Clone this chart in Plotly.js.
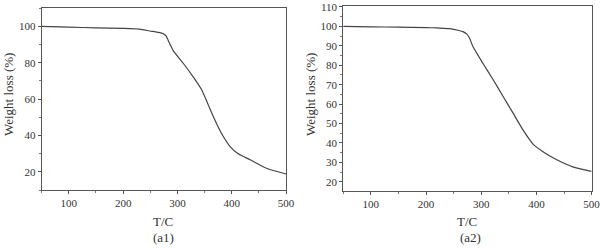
<!DOCTYPE html>
<html>
<head>
<meta charset="utf-8">
<script src="https://cdn.plot.ly/plotly-3.0.1.min.js"></script>
<style>html,body{margin:0;padding:0;background:#fff;}#chart{width:600px;height:250px;}</style>
</head>
<body>
<div id="chart"></div>
<script>
// (a1) TGA curve
const tempA1 = [50, 100, 150, 200, 230, 249, 265, 274, 279, 283, 292, 311, 329, 345, 357, 369, 381, 397, 412, 434, 464, 500];
const weightA1 = [100, 99.6, 99.2, 98.9, 98.5, 97.5, 96.7, 96.0, 94.8, 92.3, 86.8, 79.6, 72.2, 64.9, 56.7, 48.5, 41.2, 33.9, 29.9, 26.6, 22.0, 18.8];
// (a2) TGA curve
const tempA2 = [50, 100, 150, 200, 220, 243, 260, 267, 274, 279, 285, 303, 322, 340, 358, 376, 394, 412, 436, 466, 500];
const weightA2 = [100, 99.8, 99.6, 99.4, 99.2, 98.9, 97.9, 97.3, 96.0, 93.9, 89.6, 81.0, 72.4, 63.8, 55.2, 46.6, 39.4, 35.5, 31.5, 27.7, 25.4];
const xTicks = [100, 200, 300, 400, 500];
const yTicksA1 = [20, 40, 60, 80, 100];
const yTicksA2 = [20, 30, 40, 50, 60, 70, 80, 90, 100, 110];
const panelLabels = ['(a1)', '(a2)'];
const xTitle = 'T/C';
const yTitle = 'Weight loss (%)';

const family = 'Liberation Serif, Times New Roman, serif';
const tickFnt = {family: family, size: 11, color: '#333'};
const titleFnt = {family: family, size: 13, color: '#333'};
const lineStyle = {color: '#444', width: 1.2, shape: 'spline', smoothing: 0.6};

const traces = [
  {x: tempA1, y: weightA1, type: 'scatter', mode: 'lines', line: lineStyle, xaxis: 'x', yaxis: 'y', hoverinfo: 'skip'},
  {x: tempA2, y: weightA2, type: 'scatter', mode: 'lines', line: lineStyle, xaxis: 'x2', yaxis: 'y2', hoverinfo: 'skip'}
];

function xAxis(domain, anchor) {
  return {
    domain: domain, anchor: anchor, range: [50, 500],
    tickvals: xTicks, ticks: 'outside', ticklen: 3, tickcolor: '#555', tickwidth: 1,
    minor: {dtick: 50, tick0: 50, ticks: 'outside', ticklen: 2, tickcolor: '#777'},
    showline: true, linecolor: '#555', linewidth: 1, mirror: true,
    showgrid: false, zeroline: false, tickfont: tickFnt, ticklabeloverflow: 'allow'
  };
}
function yAxis(domain, anchor, range, ticks, minorStep) {
  return {
    domain: domain, anchor: anchor, range: range,
    tickvals: ticks, ticks: 'outside', ticklen: 3, tickcolor: '#555', tickwidth: 1,
    minor: {dtick: minorStep, tick0: 0, ticks: 'outside', ticklen: 2, tickcolor: '#777'},
    showline: true, linecolor: '#555', linewidth: 1, mirror: true,
    showgrid: false, zeroline: false, tickfont: tickFnt, ticklabeloverflow: 'allow'
  };
}

function ann(text, xpx, ypx, angle) {
  return {text: text, xref: 'paper', yref: 'paper', x: xpx / 600, y: 1 - ypx / 250,
    showarrow: false, font: titleFnt, xanchor: 'center', yanchor: 'middle', textangle: angle || 0};
}

const layout = {
  width: 600, height: 250,
  margin: {l: 0, r: 0, t: 0, b: 0},
  paper_bgcolor: '#fff', plot_bgcolor: '#fff',
  showlegend: false,
  xaxis: xAxis([0.0695, 0.4767], 'y'),
  yaxis: yAxis([0.24, 0.967], 'x', [10, 110], yTicksA1, 10),
  xaxis2: xAxis([0.572, 0.986], 'y2'),
  yaxis2: yAxis([0.237, 0.976], 'x2', [15.4, 110.5], yTicksA2, 5),
  annotations: [
    ann(xTitle, 163, 221),
    ann(xTitle, 467, 221),
    ann(panelLabels[0], 163, 237),
    ann(panelLabels[1], 470, 237),
    ann(yTitle, 8, 95, -90),
    ann(yTitle, 310, 95, -90)
  ]
};

Plotly.newPlot('chart', traces, layout, {staticPlot: true, displayModeBar: false});
</script>
</body>
</html>
